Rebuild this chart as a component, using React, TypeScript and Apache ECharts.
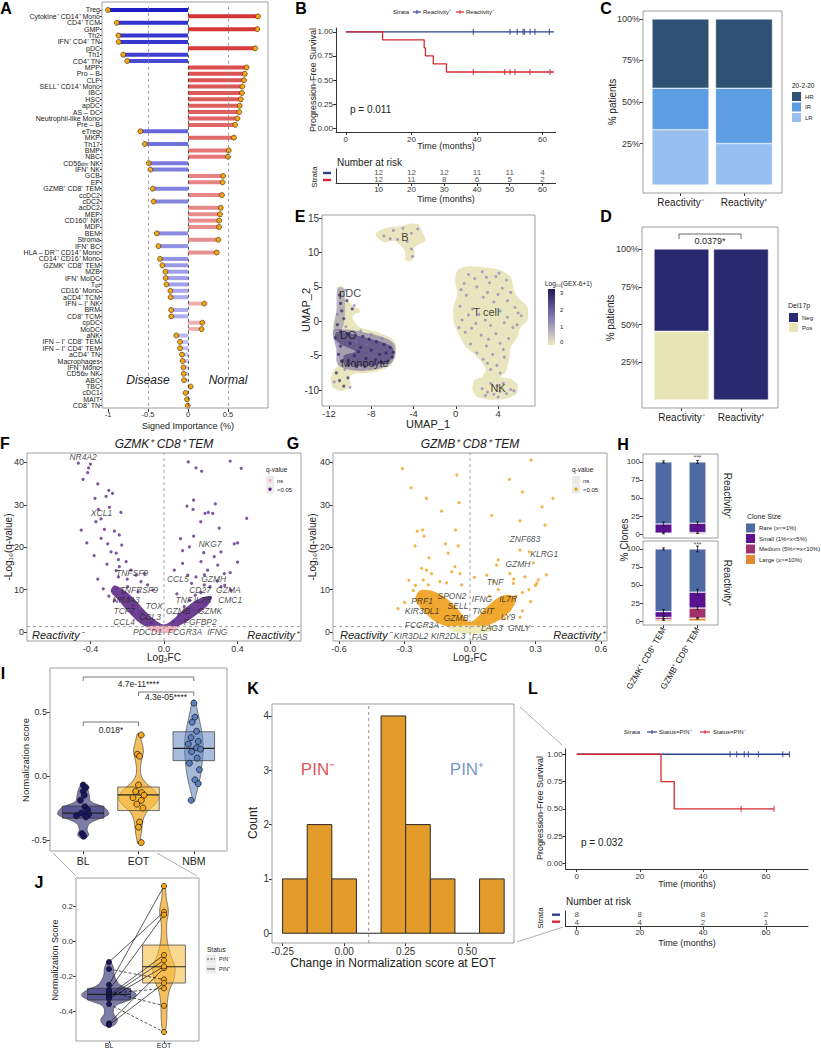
import React, { useEffect, useRef } from "react";
import * as echarts from "echarts";

const FONT = "'Liberation Sans', Arial, Helvetica, sans-serif";

// ===== Panel A : signed importance =====
const aCells = [
  "Treg", "Cytokine⁺ CD14⁺ Mono", "CD4⁺ TCM", "GMP", "Th2", "IFN⁺ CD4⁺ TN", "pDC", "Th1", "CD4⁺ TN", "MPP",
  "Pro – B", "CLP", "SELL⁺ CD14⁺ Mono", "IBC", "HSC", "apDC", "AS – DC", "Neutrophil-like Mono", "Pre – B", "eTreg",
  "MKP", "Th17", "BMP", "NBC", "CD56{s|dim} NK", "IFN⁺ NK", "GCB", "EP", "GZMB⁺ CD8⁺ TEM", "ccDC2",
  "cDC2", "acDC2", "MEP", "CD160⁺ NK", "MDP", "BEM", "Stroma", "IFN⁺ BC", "HLA – DR⁺⁺ CD14⁺ Mono", "CD14⁺ CD16⁺ Mono",
  "GZMK⁺ CD8⁺ TEM", "MZB", "IFN⁺ MoDC", "T{s|gd}", "CD16⁺ Mono", "aCD4⁺ TCM", "IFN – I⁺ NK", "BRM", "CD8⁺ TCM", "cpDC",
  "MoDC", "aNK", "IFN – I⁺ CD8⁺ TEM", "IFN – I⁺ CD4⁺ TEM", "aCD4⁺ TN", "Macrophages", "IFN⁺ Mono", "CD56{s|br} NK", "ABC", "TBC",
  "cDC1", "MAIT", "CD8⁺ TN",
];
const aImportance = [
  -1.0, 0.875, -0.89, 0.867, -0.87, -0.867, 0.84, -0.81, -0.76, 0.733,
  0.71, 0.70, 0.68, 0.675, 0.66, 0.646, 0.64, 0.617, 0.59, -0.596,
  0.575, -0.54, 0.51, 0.50, -0.49, -0.47, 0.44, 0.433, -0.44, 0.425,
  -0.43, 0.41, 0.40, 0.39, 0.388, -0.39, 0.38, -0.37, 0.36, -0.35,
  -0.32, -0.283, -0.28, -0.27, -0.22, -0.217, 0.204, -0.21, -0.21, 0.18,
  0.17, -0.146, -0.10, -0.10, -0.075, -0.067, -0.058, -0.054, -0.05, 0.033,
  -0.03, -0.012, -0.004,
];

// ===== Panel B : KM =====
const bBlueTimes = [0, 63.5];
const bBlueSurv = [1, 1];
const bRedTimes = [0, 11.2, 23.9, 24.3, 26.7, 30.7, 63.5];
const bRedSurv = [1, 0.917, 0.833, 0.75, 0.667, 0.583, 0.583];
const bBlueCensor = [38.9, 50.1, 52.3, 54.1, 54.5, 56.2, 57.7, 62.1];
const bRedCensor = [38.9, 48.5, 50.1, 51.6, 56.2, 62.3];
const bRiskTimes = [10, 20, 30, 40, 50, 60];
const bRiskBlue = [12, 12, 12, 11, 11, 4];
const bRiskRed = [12, 11, 8, 6, 5, 2];

// ===== Panel C =====
const cGroups = ["Reactivity⁻", "Reactivity⁺"];
const cLR = [33.3, 25];
const cIR = [25, 33.3];
const cHR = [41.7, 41.7];

// ===== Panel D =====
const dPos = [45.5, 0];
const dNeg = [54.5, 100];

// ===== Panel E : UMAP =====
const eClusterB = [[-7.58,12.74],[-7.1,13.3],[-6.16,13.7],[-5.2,13.8],[-4.26,14.2],[-3.57,14.1],[-3.06,12.7],[-2.84,11.7],[-3.47,11.2],[-3.94,10.6],[-3.88,9.45],[-4.26,8.77],[-4.73,8.83],[-4.8,10.1],[-5.2,11.0],[-5.84,11.7],[-6.79,11.5],[-7.48,12.2]];
const eClusterT = [[0.16,7.41],[1.1,8.0],[3.0,7.8],[4.26,7.41],[5.2,6.44],[5.52,4.5],[5.84,3.53],[6.79,2.08],[6.79,0.15],[6.16,-0.83],[5.84,-2.28],[5.2,-3.73],[5.05,-5.67],[4.73,-7.37],[4.26,-8.1],[5.2,-8.33],[5.84,-9.16],[5.78,-10.5],[4.9,-11.2],[3.31,-11.4],[2.05,-11.0],[1.58,-10.0],[1.73,-8.58],[2.52,-8.0],[2.84,-7.12],[2.52,-6.06],[1.73,-4.7],[0.95,-3.73],[0.41,-2.28],[-0.16,-0.34],[-0.22,2.08],[0.16,4.03],[-0.06,5.96]];
const eClusterM = [[-11.2,4.99],[-10.73,5.09],[-10.58,3.53],[-10.1,2.8],[-9.63,2.08],[-9.16,1.84],[-9.06,1.36],[-9.47,1.11],[-9.79,0.63],[-9.16,-0.83],[-8.05,-1.31],[-7.1,-1.79],[-6.16,-2.37],[-5.68,-3.24],[-5.68,-5.19],[-6.16,-6.4],[-7.1,-7.12],[-8.36,-7.51],[-9.63,-7.6],[-10.1,-8.18],[-9.94,-9.06],[-10.26,-9.78],[-10.9,-10.13],[-11.6,-9.64],[-11.84,-8.47],[-11.58,-7.22],[-11.14,-6.4],[-11.05,-4.7],[-11.27,-3.24],[-11.58,-2.03],[-11.68,-1.06],[-11.52,0.15],[-11.27,1.6],[-11.14,3.3]];
const eDenseOuter = [[-11.6,-1.3],[-10.4,-1.2],[-9.0,-1.5],[-7.6,-2.0],[-6.4,-2.6],[-5.8,-3.4],[-5.75,-5.0],[-6.2,-6.2],[-7.3,-6.9],[-8.8,-7.2],[-10.2,-7.0],[-11.2,-6.2],[-11.3,-4.2]];
const eDenseInner = [[-11.3,-1.6],[-10,-1.8],[-8.5,-2.4],[-7,-3.0],[-6.0,-3.8],[-5.9,-5.0],[-6.4,-5.9],[-7.6,-6.3],[-9.2,-6.5],[-10.4,-6.1],[-10.6,-5.0],[-9.5,-4.4],[-10.8,-3.4],[-11.4,-2.6]];
const ePdcStrip = [[-11.2,4.8],[-10.6,4.8],[-10.5,1.0],[-10.8,-1.2],[-11.5,-1.2],[-11.3,1.5]];
const eLightPts = [
  [1.2,6.8],[2.5,7.2],[3.8,6.5],[4.8,6.0],[0.8,5.5],[2.0,5.0],[3.2,5.6],[4.4,4.8],[5.2,4.2],[1.0,3.8],[2.6,3.5],[3.6,2.8],[4.9,3.0],[0.4,2.2],[1.6,1.8],[4.2,1.5],[5.6,2.0],[6.2,0.8],[0.6,0.2],[1.9,-0.3],[3.3,-0.6],[4.6,-0.2],[5.4,-0.9],[0.9,-1.6],[2.4,-2.0],[3.8,-1.8],[5.0,-2.5],[1.4,-3.3],[2.9,-3.6],[4.2,-3.2],[3.5,-4.8],[4.6,-5.2],[2.6,-5.5],[3.9,-6.4],[3.3,-7.0],[2.2,1.0],[3.0,4.2],[1.5,-1.0],[4.0,3.9],[5.8,-0.5],
  [1.8,6.2],[4.1,7.0],[0.5,4.6],[2.9,6.4],[5.9,1.2],[1.2,0.9],[2.8,0.2],[4.9,0.6],[0.3,-0.9],[3.1,-2.6],[4.5,-4.1],[2.0,-4.6],[3.0,-6.1],[4.2,-7.5],
  [2.5,-9.8],[3.0,-10.3],[3.6,-10.6],[4.2,-10.2],[4.8,-10.5],[5.2,-9.9],[3.9,-9.4],[2.8,-10.8],[4.5,-9.0],[3.3,-9.0],[5.5,-10.1],[4.0,-11.0],
  [-6.8,12.4],[-5.9,13.2],[-5.0,13.5],[-4.2,12.8],[-3.6,13.4],[-4.6,11.6],[-5.5,11.9],[-4.2,10.5],[-4.1,9.4],[-6.2,12.0],
  [-10.5,-7.0],[-10.0,-9.6],[-11.5,-8.8],[-9.0,-1.4],[-8.0,-1.9],[-10.5,4.5],[-9.6,2.3],[-11.2,1.0],[-10.4,-0.8],[-9.4,-3.0],[-8.4,-3.4],[-7.0,-2.5],
];
const eDarkPts = [[-11.0,3.8],[-10.9,2.6],[-10.8,1.5],[-10.6,0.4],[-11.2,-0.5],[-10.9,-1.5],[-10.2,-1.8],[-9.5,-2.0],[-8.8,-2.2],[-8.2,-2.6],[-7.5,-3.0],[-6.8,-3.4],[-6.2,-3.8],[-5.9,-4.5],[-6.0,-5.2],[-6.4,-5.8],[-7.0,-6.0],[-7.8,-6.3],[-8.6,-6.6],[-9.4,-6.6],[-10.2,-6.4],[-10.8,-5.8],[-11.1,-4.8],[-10.9,-3.6],[-10.0,-3.2],[-9.0,-3.8],[-8.0,-4.2],[-7.2,-4.8],[-8.5,-5.4],[-9.6,-5.0],[-11.3,-7.5],[-11.0,-8.6],[-10.6,-9.4],[-10.2,-8.2],[-9.8,1.8],[-10.3,3.0],[-11.4,-2.4],[-7.6,-5.6],[-6.6,-4.6],[-9.2,-4.4]];
const eLabels = [[-4.8,12.2,"B"],[-10.0,4.1,"pDC"],[-10.2,-2.0,"DC"],[-8.6,-6.1,"Monocyte"],[2.9,1.3,"T cell"],[4.0,-9.7,"NK"]];

// ===== Panel F : volcano GZMK =====
const fSig = [
  [-0.466,39.8],[-0.40,39.6],[-0.41,38.7],[-0.415,37.6],[-0.44,36.0],[-0.36,34.9],[-0.30,33.4],[-0.28,32.7],[-0.315,32.0],[-0.375,31.5],[-0.297,29.4],[-0.357,28.9],[-0.234,28.2],[-0.342,26.7],
  [0.132,40.1],[0.36,40.3],[0.42,38.6],[0.174,38.7],[0.205,37.9],[0.125,29.7],[0.161,31.1],[0.279,30.2],[0.158,28.9],[0.223,28.0],[0.241,28.2],[0.265,28.0],
  [-0.37,26.0],[-0.324,24.2],[-0.27,23.8],[-0.342,22.1],[-0.306,20.8],[-0.243,22.9],[-0.23,20.5],[-0.288,18.9],[-0.26,18.6],[-0.248,17.1],[-0.206,16.6],[-0.243,15.4],[-0.18,14.6],[-0.152,13.4],[-0.107,13.8],[-0.248,13.0],[-0.125,11.9],[-0.089,11.1],[-0.061,9.9],[-0.197,10.7],
  [0.161,22.6],[0.138,20.1],[0.101,19.2],[0.216,18.7],[0.273,17.8],[0.201,16.6],[0.31,18.9],[0.292,15.8],[0.382,20.8],[0.101,16.2],[0.056,14.6],[0.129,13.4],[0.174,13.0],[0.237,14.6],[0.328,13.8],[0.31,10.7],[0.219,11.1],[0.364,9.9],
  [-0.36,12.5],[-0.33,10.2],[-0.3,8.5],[-0.27,7.4],[-0.22,9.2],[-0.19,8],[-0.17,6.3],[-0.12,4.5],[-0.1,3.2],[-0.07,2.2],[-0.26,14.5],[-0.2,12.5],[-0.14,9.5],[-0.31,16],[-0.38,18],[-0.42,21],[-0.45,24],
  [0.05,2.5],[0.08,4.2],[0.11,6],[0.14,7.5],[0.17,8.7],[0.2,9.3],[0.25,10.7],[0.29,12],[0.33,11],[0.36,14],[0.4,16.5],[0.22,13.5],[0.15,11.5],[0.07,9],[0.4,21],[0.3,24.5],[0.2,26],[0.09,22],[0.45,26.8],
];
const fNs = [[-0.05,0.6],[0.03,0.9],[0.06,0.4],[-0.02,1.0],[0.01,0.2]];
const fDense = [[-0.27,11],[-0.22,10],[-0.17,8.2],[-0.12,5.8],[-0.07,3.6],[-0.03,2.3],[0.0,1.8],[0.04,2.6],[0.09,4.6],[0.15,6.8],[0.21,8.2],[0.26,8.4],[0.24,6.4],[0.18,4.2],[0.12,2.4],[0.07,1.3],[0.02,0.6],[-0.04,0.6],[-0.1,1.3],[-0.15,2.8],[-0.2,5],[-0.25,7.6],[-0.29,9.6]];
const fNsArea = [[-0.1,1.3],[0.08,1.3],[0.05,0.2],[0,-0.3],[-0.06,0.2]];
const fLabels = [[-0.44,41.3,"NR4A2"],[-0.34,28,"XCL1"],[0.25,20.7,"NKG7"],[-0.174,13.9,"TNFSF9"],[0.075,12.5,"CCL5"],[0.27,12.5,"GZMH"],[-0.137,9.9,"TNFRSF9"],[0.196,9.9,"CD27"],[0.35,9.9,"GZMA"],[-0.206,7.5,"NR4A3"],[-0.054,6.1,"TOX"],[0.108,7.5,"TNF"],[0.21,7.5,"IL7R"],[0.36,7.5,"CMC1"],[-0.217,5,"TCF7"],[-0.076,3.5,"CCL3"],[0.077,5,"GZMB"],[0.25,5,"GZMK"],[-0.217,2.4,"CCL4"],[0.197,2.4,"FGFBP2"],[-0.09,0,"PDCD1"],[0.114,0,"FCGR3A"],[0.29,0,"IFNG"]];

// ===== Panel G : volcano GZMB =====
const gSig = [
  [-0.242,23.8],[-0.217,24.1],[-0.211,22.6],[-0.252,20.3],[-0.066,24.1],[-0.054,20.3],[-0.112,20.8],[-0.1,18.6],[-0.188,17.5],[-0.222,15.0],[-0.199,14.6],[-0.176,13.8],[-0.214,12.3],[-0.191,11.1],[-0.138,11.9],[-0.107,11.6],[-0.069,15.4],[-0.046,13.8],[-0.084,14.2],[-0.038,11.1],[0.02,12.9],
  [0.229,26.2],[0.344,25.2],[0.229,19.3],[0.272,18.9],[0.29,16.3],[0.13,17.0],[0.122,15.8],[0.077,13.4],[0.107,11.9],[0.183,13.8],[0.199,11.5],[0.252,13.0],[0.313,12.3],[0.306,11.5],[0.278,7.2],[0.229,3.5],
  [-0.31,38.5],[-0.27,34],[-0.2,31.5],[-0.06,37],[-0.05,30.5],[-0.13,28.5],[0.28,40.5],[0.18,36],[0.24,33],[0.33,29.5],[0.1,27.5],[0.38,31.5],
  [-0.26,9.8],[-0.23,8.6],[-0.2,7.4],[-0.17,6],[-0.14,5],[-0.11,3.8],[-0.08,2.7],[-0.05,2],[-0.28,12.2],[-0.25,11],[0.04,1.8],[0.06,3],[0.09,4.3],[0.12,5.5],[0.15,6.6],[0.18,7.5],[0.21,8.4],[0.24,9.3],[0.27,10],[0.3,11],[0.13,10],[0.2,12.5],[0.09,8.5],[0.16,3.2],[0.24,5],[0.35,13.5],[-0.3,7],[-0.33,5.5],
];
const gNs = [[-0.04,0.5],[0.05,0.8],[0.08,0.3],[-0.01,1.0],[0.02,0.1]];
const gDense = [[-0.23,9.8],[-0.18,9.8],[-0.12,8.4],[-0.07,6.2],[-0.03,3.8],[0,2.4],[0.03,3.3],[0.07,5.6],[0.12,7.8],[0.17,8.8],[0.21,8],[0.19,5.2],[0.14,3],[0.08,1.5],[0.03,1],[-0.04,1],[-0.1,1.3],[-0.16,2.5],[-0.21,4.8],[-0.25,7.6]];
const gNsArea = [[-0.1,1.3],[0.12,1.3],[0.08,0],[0.0,-0.4],[-0.07,0]];
const gLabels = [[0.252,21.9,"ZNF683"],[0.34,18.4,"KLRG1"],[0.22,16,"GZMH"],[0.115,11.8,"TNF"],[0.175,7.8,"IL7R"],[0.055,7.8,"IFNG"],[-0.083,8.5,"SPON2"],[-0.22,7.3,"PRF1"],[-0.055,6.1,"SELL"],[-0.22,5,"KIR3DL1"],[0.06,5,"TIGIT"],[-0.064,3.3,"GZMB"],[0.175,3.5,"LY9"],[-0.22,1.6,"FCGR3A"],[0.1,0.9,"LAG3"],[0.225,0.9,"GNLY"],[-0.27,-1,"KIR3DL2"],[-0.1,-1,"KIR2DL3"],[0.045,-1.2,"FAS"]];

// ===== Panel H : clone sizes =====
const hCats = ["GZMK⁺ CD8⁺ TEM", "GZMB⁺ CD8⁺ TEM"];
const hTopLarge = [0.3, 0.5];
const hTopMedium = [1, 1.5];
const hTopSmall = [12.7, 13];
const hTopRare = [86, 85];
const hBotLarge = [2, 4];
const hBotMedium = [3, 14];
const hBotSmall = [8, 22];
const hBotRare = [87, 60];
const hTopErr = [[0,100,1.5],[0,14,2.5],[0,1.3,1],[1,100,2],[1,15,2],[1,2,1.2]];
const hBotErr = [[0,100,1.5],[0,13,3],[0,5,1.5],[0,2,1],[1,100,4],[1,40,4],[1,18,2],[1,4,1]];

// ===== Panel I : normalization score =====
const iCats = ["BL", "EOT", "NBM"];
const iPtsBL = [[-0.07,0],[-0.09,0.05],[-0.12,0],[-0.15,0.02],[-0.19,-0.05],[-0.24,0.03],[-0.265,0.08],[-0.29,-0.03],[-0.30,0.1],[-0.31,-0.12],[-0.32,0.05],[-0.45,-0.02],[-0.47,0.01]];
const iPtsEOT = [[0.32,0.05],[0.17,-0.02],[0.155,0.02],[-0.07,0],[-0.12,-0.05],[-0.13,0.06],[-0.15,0.1],[-0.17,-0.1],[-0.19,0.05],[-0.22,-0.03],[-0.25,0.08],[-0.36,0.02],[-0.40,0],[-0.52,0.05]];
const iPtsNBM = [[0.57,0],[0.46,0.02],[0.42,-0.03],[0.35,0.05],[0.30,-0.05],[0.27,0.08],[0.25,-0.1],[0.22,0.05],[0.21,0.12],[0.19,-0.04],[0.14,0.06],[0.10,-0.08],[0.05,0.1],[-0.03,0.02],[-0.06,0.08],[-0.19,-0.05]];
const iBox = [[0,-0.33,-0.29,-0.235],[1,-0.27,-0.148,-0.086],[2,0.12,0.216,0.346]];
const iViolinBL = [[-0.06,0.02],[-0.1,0.08],[-0.15,0.11],[-0.2,0.14],[-0.24,0.36],[-0.27,0.44],[-0.3,0.46],[-0.33,0.32],[-0.37,0.12],[-0.42,0.07],[-0.46,0.1],[-0.49,0.02]];
const iViolinEOT = [[0.33,0.02],[0.28,0.05],[0.2,0.09],[0.15,0.07],[0.08,0.04],[0.0,0.05],[-0.06,0.15],[-0.12,0.3],[-0.17,0.36],[-0.22,0.3],[-0.28,0.15],[-0.35,0.08],[-0.42,0.06],[-0.5,0.03],[-0.53,0.01]];
const iViolinNBM = [[0.59,0.02],[0.5,0.07],[0.4,0.12],[0.3,0.16],[0.2,0.17],[0.1,0.15],[0.0,0.12],[-0.08,0.08],[-0.15,0.04],[-0.2,0.01]];

// ===== Panel J : paired =====
const jCats = ["BL", "EOT"];
const jBL = [-0.16, -0.29, -0.36, -0.30, -0.25, -0.12, -0.28, -0.47, -0.31, -0.32, -0.33, -0.48];
const jEOT = [-0.22, -0.37, -0.52, -0.27, 0.314, 0.167, 0.15, -0.155, -0.08, -0.11, -0.145, -0.24];
const jPin = [0, 0, 0, 0, 1, 1, 1, 1, 1, 1, 1, 1];
const jBox = [[0,-0.337,-0.305,-0.27],[1,-0.24,-0.147,-0.023]];
const jViolinBL = [[-0.115,0.02],[-0.15,0.08],[-0.2,0.1],[-0.25,0.2],[-0.28,0.4],[-0.31,0.5],[-0.34,0.35],[-0.37,0.12],[-0.41,0.08],[-0.45,0.15],[-0.48,0.1],[-0.49,0.01]];
const jViolinEOT = [[0.32,0.02],[0.25,0.04],[0.17,0.08],[0.1,0.05],[0.0,0.06],[-0.08,0.12],[-0.15,0.2],[-0.22,0.18],[-0.28,0.1],[-0.35,0.06],[-0.45,0.05],[-0.52,0.02]];

// ===== Panel K : histogram =====
const kBinStart = [-0.25, -0.15, -0.05, 0.05, 0.15, 0.25, 0.35, 0.45, 0.55];
const kCounts = [1, 2, 1, 0, 4, 2, 1, 0, 1];
const kBinWidth = 0.1;

// ===== Panel L : KM =====
const lBlueTimes = [0, 67.4];
const lBlueSurv = [1, 1];
const lRedTimes = [0, 26.7, 30.9, 62.5];
const lRedSurv = [1, 0.75, 0.5, 0.5];
const lBlueCensor = [48.6, 50.7, 53.1, 54.4, 57.6, 65.3, 67.4];
const lRedCensor = [52.1, 62.5];
const lRiskTimes = [0, 20, 40, 60];
const lRiskBlue = [8, 8, 8, 2];
const lRiskRed = [4, 4, 2, 1];

// ---------- helpers ----------
const AXC = "#333";
function vAxis(gi: number, min: number, max: number, ticks: number[], fmt: (v: number) => string = (v) => String(v), o: any = {}) {
  return {
    type: "value", gridIndex: gi, min, max, offset: o.offset || 0,
    axisLine: { show: !!o.line, onZero: false, lineStyle: { color: AXC, width: 1 } },
    axisTick: { show: true, length: 3, customValues: ticks, lineStyle: { color: AXC } },
    axisLabel: { show: !o.noLabel, customValues: ticks, formatter: fmt, fontSize: o.fs || 8, color: AXC, margin: o.margin ?? 3, fontFamily: FONT },
    splitLine: { show: false },
  };
}
function cAxis(gi: number, data: string[], o: any = {}) {
  return {
    type: "category", gridIndex: gi, data, inverse: !!o.inverse,
    axisLine: { show: !!o.line, onZero: false, lineStyle: { color: AXC } },
    axisTick: { show: o.tick !== false, length: o.tickLen || 3, alignWithLabel: true, interval: 0, lineStyle: { color: AXC } },
    axisLabel: { show: !o.noLabel, interval: 0, fontSize: o.fs || 9, color: "#222", margin: o.margin ?? 3, rotate: o.rotate || 0, fontFamily: FONT, rich: o.rich },
    splitLine: { show: false },
  };
}
const T = (x: number, y: number, text: string, o: any = {}) => ({
  type: "text", x, y, rotation: o.rot || 0, silent: true, z: 50,
  style: { text, fontSize: o.fs || 9, fill: o.c || "#222", fontFamily: FONT, fontStyle: o.it ? "italic" : "normal", fontWeight: o.b ? "bold" : "normal", align: o.al || "center", verticalAlign: o.va || "middle" },
});
const R = (x: number, y: number, w: number, h: number, fill: any, stroke: string = "none", lw = 1) => ({
  type: "rect", shape: { x, y, width: w, height: h }, silent: true, z: 50, style: { fill, stroke, lineWidth: lw },
});
const Ln = (x1: number, y1: number, x2: number, y2: number, stroke = "#333", lw = 1, dash: any = null) => ({
  type: "line", shape: { x1, y1, x2, y2 }, silent: true, z: 50, style: { stroke, lineWidth: lw, lineDash: dash },
});

const polySeries = (gi: number, pts: number[][], fill: string, smooth = 0.2, z = 1, stroke = "none") => ({
  type: "custom", xAxisIndex: gi, yAxisIndex: gi, z, silent: true, data: [pts[0]],
  renderItem: (_p: any, api: any) => ({
    type: "polygon", shape: { points: pts.map((p) => api.coord(p)), smooth }, style: { fill, stroke, lineWidth: 0.5 },
  }),
});
const refLine = (gi: number, p1: number[], p2: number[], color: string, dash: any, width = 0.8, z = 5) => ({
  type: "custom", xAxisIndex: gi, yAxisIndex: gi, z, silent: true, data: [p1],
  renderItem: (_p: any, api: any) => {
    const a = api.coord(p1), b = api.coord(p2);
    return { type: "line", shape: { x1: a[0], y1: a[1], x2: b[0], y2: b[1] }, style: { stroke: color, lineWidth: width, lineDash: dash } };
  },
});
const violinSeries = (gi: number, cat: number, prof: number[][], fill: string, z = 2) => ({
  type: "custom", xAxisIndex: gi, yAxisIndex: gi, z, silent: true, data: [[cat, prof[0][0]]],
  renderItem: (_p: any, api: any) => {
    const band = api.size([1, 0])[0];
    const right = prof.map(([v, w]) => { const c = api.coord([cat, v]); return [c[0] + w * band, c[1]]; });
    const left = prof.slice().reverse().map(([v, w]) => { const c = api.coord([cat, v]); return [c[0] - w * band, c[1]]; });
    return { type: "polygon", shape: { points: [...right, ...left], smooth: 0.35 }, style: { fill, stroke: "#3a3a3a", lineWidth: 0.6 } };
  },
});
const boxSeries = (gi: number, boxes: number[][], fills: string[], widthFrac: number, z = 3) => ({
  type: "custom", xAxisIndex: gi, yAxisIndex: gi, z, silent: true, data: boxes,
  renderItem: (p: any, api: any) => {
    const band = api.size([1, 0])[0];
    const cat = api.value(0);
    const a = api.coord([cat, api.value(3)]);
    const b = api.coord([cat, api.value(1)]);
    const m = api.coord([cat, api.value(2)]);
    const w = band * widthFrac;
    return {
      type: "group", children: [
        { type: "rect", shape: { x: a[0] - w / 2, y: a[1], width: w, height: b[1] - a[1] }, style: { fill: fills[p.dataIndex], stroke: "#3a3a3a", lineWidth: 0.7 } },
        { type: "line", shape: { x1: a[0] - w / 2, y1: m[1], x2: a[0] + w / 2, y2: m[1] }, style: { stroke: "#222", lineWidth: 1.2 } },
      ],
    };
  },
});
const pointsSeries = (gi: number, cat: number, pts: number[][], fill: string, r = 3, z = 6) => ({
  type: "custom", xAxisIndex: gi, yAxisIndex: gi, z, silent: true, data: pts.map(([v, dx]) => [cat, v, dx]),
  renderItem: (_p: any, api: any) => {
    const band = api.size([1, 0])[0];
    const c = api.coord([api.value(0), api.value(1)]);
    return { type: "circle", shape: { cx: c[0] + api.value(2) * band, cy: c[1], r }, style: { fill, stroke: "#111", lineWidth: 0.7 } };
  },
});
const labelSeries = (gi: number, items: any[], o: any = {}) => ({
  type: "scatter", xAxisIndex: gi, yAxisIndex: gi, symbolSize: 0.01, z: 8, silent: true,
  itemStyle: { color: "rgba(0,0,0,0)" },
  data: items.map((d) => [d[0], d[1], d[2]]),
  label: { show: true, position: "inside", formatter: (p: any) => p.value[2], fontSize: o.fs || 9, fontStyle: o.it ? "italic" : "normal", color: o.c || "#222", fontFamily: FONT },
});
const errSeries = (gi: number, items: number[][]) => ({
  type: "custom", xAxisIndex: gi, yAxisIndex: gi, z: 6, silent: true, data: items,
  renderItem: (_p: any, api: any) => {
    const cat = api.value(0), v = api.value(1), e = api.value(2);
    const a = api.coord([cat, v + e]), b = api.coord([cat, v - e]);
    return {
      type: "group", children: [
        { type: "line", shape: { x1: a[0], y1: a[1], x2: b[0], y2: b[1] }, style: { stroke: "#111", lineWidth: 0.8 } },
        { type: "line", shape: { x1: a[0] - 1.5, y1: a[1], x2: a[0] + 1.5, y2: a[1] }, style: { stroke: "#111", lineWidth: 0.8 } },
        { type: "line", shape: { x1: b[0] - 1.5, y1: b[1], x2: b[0] + 1.5, y2: b[1] }, style: { stroke: "#111", lineWidth: 0.8 } },
      ],
    };
  },
});

function buildOption() {
  const kmBlue = "#2C3E8F", kmRed = "#D7282E";
  const grids = [
    { left: 102, top: 6.8, width: 166, height: 402.1 },
    { left: 336, top: 28, width: 219.6, height: 104 },
    { left: 336, top: 169, width: 219.6, height: 14 },
    { left: 648.75, top: 11, width: 127, height: 182 },
    { left: 651.75, top: 227, width: 119, height: 181 },
    { left: 322, top: 215, width: 213, height: 191 },
    { left: 27, top: 453, width: 274, height: 188 },
    { left: 333, top: 453, width: 274, height: 188 },
    { left: 646.5, top: 454, width: 68, height: 84 },
    { left: 646.5, top: 541, width: 68, height: 84 },
    { left: 55.5, top: 668, width: 166, height: 183 },
    { left: 81.5, top: 878, width: 110, height: 163 },
    { left: 272, top: 704, width: 242, height: 239 },
    { left: 565.7, top: 748.8, width: 242.3, height: 120.2 },
    { left: 565.7, top: 911, width: 242.3, height: 15.7 },
  ].map((g) => ({ ...g, containLabel: false, outerBoundsMode: "none" }));

  const f1 = (v: number) => v.toFixed(1);
  const f2 = (v: number) => v.toFixed(2);
  const pct = (v: number) => v + "%";

  const xAxis: any[] = [
    vAxis(0, -1.075, 1.0, [-1, -0.5, 0, 0.5], (v) => String(v), { margin: 1.5, fs: 7.5 }),
    vAxis(1, -3, 64, [0, 20, 40, 60], (v) => String(v), { line: true, fs: 8 }),
    vAxis(2, -3, 64, [10, 20, 30, 40, 50, 60], (v) => String(v), { line: true, fs: 8, margin: 2 }),
    cAxis(3, cGroups, { fs: 10, margin: 4 }),
    cAxis(4, cGroups, { fs: 10, margin: 4 }),
    vAxis(5, -12.66, 7.5, [-12, -8, -4, 0, 4], (v) => String(v), { fs: 9.5, margin: 2 }),
    vAxis(6, -0.745, 0.745, [-0.4, 0, 0.4], f1, { fs: 9 }),
    vAxis(7, -0.628, 0.628, [-0.6, -0.3, 0, 0.3, 0.6], f1, { fs: 9 }),
    cAxis(8, hCats, { noLabel: true, tick: false }),
    cAxis(9, hCats, { fs: 8.5, rotate: 60, margin: 3 }),
    cAxis(10, iCats, { fs: 10.5, margin: 4 }),
    cAxis(11, jCats, { fs: 7, margin: 1, tickLen: 2 }),
    vAxis(12, -0.293, 0.69, [-0.25, 0, 0.25, 0.5], f2, { fs: 10 }),
    vAxis(13, -3.5, 73.3, [0, 20, 40, 60], (v) => String(v), { line: true, fs: 8 }),
    vAxis(14, -3.5, 73.3, [0, 20, 40, 60], (v) => String(v), { line: true, fs: 8, margin: 2 }),
  ];
  const aY = cAxis(0, aCells, { inverse: true, fs: 7, margin: 2, rich: { s: { fontSize: 4.5, verticalAlign: "bottom", color: "#222", fontFamily: FONT } } });
  aY.axisTick.length = 2;
  const bRiskY = cAxis(2, ["blue", "red"], { inverse: true, noLabel: true, tick: false, line: true });
  const lRiskY = cAxis(14, ["blue", "red"], { inverse: true, noLabel: true, tick: false, line: true });
  const yAxis: any[] = [
    aY,
    vAxis(1, -0.04, 1.04, [0, 0.25, 0.5, 0.75, 1], f2, { line: true, fs: 8 }),
    bRiskY,
    vAxis(3, -4.8, 104.8, [25, 50, 75, 100], pct, { offset: 5.75, fs: 9 }),
    vAxis(4, -5.3, 114.6, [25, 50, 75, 100], pct, { offset: 9.75, fs: 9 }),
    vAxis(5, -12.3, 15.44, [-10, -5, 0, 5, 10, 15], (v) => String(v), { fs: 10 }),
    vAxis(6, -2.1, 42.2, [0, 10, 20, 30, 40], (v) => String(v), { fs: 9 }),
    vAxis(7, -2.1, 42.2, [0, 10, 20, 30, 40], (v) => String(v), { fs: 9 }),
    vAxis(8, -5.5, 111, [0, 25, 50, 75, 100], (v) => String(v), { offset: 3.5, fs: 8 }),
    vAxis(9, -5.5, 111, [0, 25, 50, 75, 100], (v) => String(v), { offset: 3.5, fs: 8 }),
    vAxis(10, -0.586, 0.844, [-0.5, 0, 0.5], f1, { offset: 5.5, fs: 9 }),
    vAxis(11, -0.571, 0.36, [-0.4, -0.2, 0, 0.2], f1, { offset: 5.5, fs: 8 }),
    vAxis(12, -0.18, 4.22, [0, 1, 2, 3, 4], (v) => String(v), { fs: 10 }),
    vAxis(13, -0.051, 1.05, [0, 0.25, 0.5, 0.75, 1], f2, { line: true, fs: 8 }),
    lRiskY,
  ];

  const series: any[] = [];

  // ---- A ----
  series.push({
    type: "bar", xAxisIndex: 0, yAxisIndex: 0, barWidth: 4, z: 2, silent: true,
    data: aImportance.map((v) => ({ value: v, itemStyle: { color: v < 0 ? "#1E1EC8" : "#D21E1E", opacity: 0.2 + 0.8 * Math.min(1, Math.abs(v)) } })),
    markLine: {
      silent: true, symbol: "none", label: { show: false },
      data: [
        { xAxis: -0.5, lineStyle: { color: "#888", type: [3, 3], width: 0.8 } },
        { xAxis: 0, lineStyle: { color: "#333", type: [3, 3], width: 0.8 } },
        { xAxis: 0.5, lineStyle: { color: "#888", type: [3, 3], width: 0.8 } },
      ],
    },
  });
  series.push({
    type: "scatter", xAxisIndex: 0, yAxisIndex: 0, z: 4, symbolSize: 5, silent: true,
    data: aImportance.map((v, i) => [v, i]),
    itemStyle: { color: "#F2A516", borderColor: "#3a2a00", borderWidth: 0.6, opacity: 1 },
  });

  // ---- B ----
  const kmLine = (gi: number, times: number[], surv: number[], color: string) => ({
    type: "line", xAxisIndex: gi, yAxisIndex: gi, step: "end", symbol: "none", z: 3, silent: true,
    data: times.map((t, i) => [t, surv[i]]), lineStyle: { color, width: 1.3 },
  });
  const censor = (gi: number, times: number[], y: number, color: string) => ({
    type: "scatter", xAxisIndex: gi, yAxisIndex: gi, symbol: "rect", symbolSize: [1.2, 6], z: 4, silent: true,
    data: times.map((t) => [t, y]), itemStyle: { color },
  });
  const riskRow = (gi: number, times: number[], vals: number[], row: number) => ({
    type: "scatter", xAxisIndex: gi, yAxisIndex: gi, symbolSize: 0.01, z: 5, silent: true,
    itemStyle: { color: "rgba(0,0,0,0)" },
    data: times.map((t, i) => [t, row, vals[i]]),
    label: { show: true, position: "inside", formatter: (p: any) => String(p.value[2]), fontSize: 8, color: "#222", fontFamily: FONT },
  });
  series.push(kmLine(1, bBlueTimes, bBlueSurv, kmBlue), kmLine(1, bRedTimes, bRedSurv, kmRed));
  series.push(censor(1, bBlueCensor, 1, kmBlue), censor(1, bRedCensor, 0.583, kmRed));
  series.push(riskRow(2, bRiskTimes, bRiskBlue, 0), riskRow(2, bRiskTimes, bRiskRed, 1));

  // ---- C ----
  const cCol = { HR: "#2F5274", IR: "#5D9DE2", LR: "#97C0F1" };
  const stackBar = (gi: number, stack: string, data: number[], color: string, w: number) => ({
    type: "bar", xAxisIndex: gi, yAxisIndex: gi, stack, barWidth: w, z: 2, silent: true, data,
    itemStyle: { color, borderColor: "rgba(255,255,255,0.7)", borderWidth: 0.6 },
  });
  series.push(stackBar(3, "c", cLR, cCol.LR, 57), stackBar(3, "c", cIR, cCol.IR, 57), stackBar(3, "c", cHR, cCol.HR, 57));

  // ---- D ----
  const dCol = { Neg: "#29296F", Pos: "#E7E5B6" };
  series.push(stackBar(4, "d", dPos, dCol.Pos, 55), stackBar(4, "d", dNeg, dCol.Neg, 55));

  // ---- E ----
  series.push(polySeries(5, eClusterB, "#E9E6BF", 0.2, 1));
  series.push(polySeries(5, eClusterT, "#E9E6BF", 0.2, 1));
  series.push(polySeries(5, eClusterM, "#E9E6BF", 0.2, 1));
  series.push(polySeries(5, ePdcStrip, "rgba(95,80,160,0.35)", 0.3, 2));
  series.push(polySeries(5, eDenseOuter, "rgba(85,70,150,0.45)", 0.3, 2));
  series.push(polySeries(5, eDenseInner, "rgba(40,28,105,0.5)", 0.3, 2));
  series.push({
    type: "scatter", xAxisIndex: 5, yAxisIndex: 5, symbolSize: 3, z: 3, silent: true,
    data: eLightPts, itemStyle: { color: "rgba(125,110,180,0.75)" },
  });
  series.push({
    type: "scatter", xAxisIndex: 5, yAxisIndex: 5, symbolSize: 3.2, z: 3, silent: true,
    data: eDarkPts, itemStyle: { color: "rgba(40,26,100,0.85)" },
  });
  series.push(labelSeries(5, eLabels, { fs: 11, c: "#111" }));

  // ---- F ----
  series.push(polySeries(6, fDense, "rgba(94,43,135,0.9)", 0.3, 2));
  series.push(polySeries(6, fNsArea, "#F5B6C3", 0.3, 2));
  series.push(refLine(6, [-0.745, 1.3], [0.745, 1.3], "#888", [3, 3]));
  series.push(refLine(6, [0, -2.1], [0, 42.2], "#888", [3, 3]));
  series.push({ type: "scatter", xAxisIndex: 6, yAxisIndex: 6, symbolSize: 3.2, z: 4, silent: true, data: fSig, itemStyle: { color: "#5E2B87" } });
  series.push({ type: "scatter", xAxisIndex: 6, yAxisIndex: 6, symbolSize: 3.2, z: 4, silent: true, data: fNs, itemStyle: { color: "#F5B6C3" } });
  series.push(labelSeries(6, fLabels, { fs: 8.5, it: true }));

  // ---- G ----
  series.push(polySeries(7, gDense, "rgba(239,161,31,0.92)", 0.3, 2));
  series.push(polySeries(7, gNsArea, "#EDEBB9", 0.3, 2));
  series.push(refLine(7, [-0.628, 1.3], [0.628, 1.3], "#888", [3, 3]));
  series.push(refLine(7, [0, -2.1], [0, 42.2], "#888", [3, 3]));
  series.push({ type: "scatter", xAxisIndex: 7, yAxisIndex: 7, symbolSize: 3.2, z: 4, silent: true, data: gSig, itemStyle: { color: "#EFA11F" } });
  series.push({ type: "scatter", xAxisIndex: 7, yAxisIndex: 7, symbolSize: 3.2, z: 4, silent: true, data: gNs, itemStyle: { color: "#EDEBB9" } });
  series.push(labelSeries(7, gLabels, { fs: 8.5, it: true }));

  // ---- H ----
  const hCol = { Rare: "#4E6AA3", Small: "#5A1290", Medium: "#A2326C", Large: "#E08A33" };
  series.push(stackBar(8, "ht", hTopLarge, hCol.Large, 17), stackBar(8, "ht", hTopMedium, hCol.Medium, 17), stackBar(8, "ht", hTopSmall, hCol.Small, 17), stackBar(8, "ht", hTopRare, hCol.Rare, 17));
  series.push(stackBar(9, "hb", hBotLarge, hCol.Large, 17), stackBar(9, "hb", hBotMedium, hCol.Medium, 17), stackBar(9, "hb", hBotSmall, hCol.Small, 17), stackBar(9, "hb", hBotRare, hCol.Rare, 17));
  series.push(errSeries(8, hTopErr), errSeries(9, hBotErr));
  series.push(labelSeries(8, [[1, 106, "***"]], { fs: 7 }), labelSeries(9, [[1, 106, "***"]], { fs: 7 }));

  // ---- I ----
  const blFill = "rgba(40,36,110,0.6)", eotFill = "rgba(240,170,40,0.75)", nbmFill = "rgba(90,125,185,0.55)";
  series.push(violinSeries(10, 0, iViolinBL, blFill), violinSeries(10, 1, iViolinEOT, eotFill), violinSeries(10, 2, iViolinNBM, nbmFill));
  series.push(boxSeries(10, iBox, ["rgba(50,46,125,0.5)", "rgba(245,190,70,0.6)", "rgba(100,135,195,0.55)"], 0.75));
  series.push(pointsSeries(10, 0, iPtsBL, "#1B1464"), pointsSeries(10, 1, iPtsEOT, "#F4A81D"), pointsSeries(10, 2, iPtsNBM, "#5B80BF"));

  // ---- J ----
  series.push(violinSeries(11, 0, jViolinBL, blFill), violinSeries(11, 1, jViolinEOT, eotFill));
  series.push(boxSeries(11, jBox, ["rgba(50,46,125,0.5)", "rgba(245,190,70,0.6)"], 0.78));
  series.push({
    type: "custom", xAxisIndex: 11, yAxisIndex: 11, z: 5, silent: true,
    data: jBL.map((b, i) => [0, b, jEOT[i], jPin[i]]),
    renderItem: (_p: any, api: any) => {
      const a = api.coord([0, api.value(1)]), b = api.coord([1, api.value(2)]);
      return { type: "line", shape: { x1: a[0], y1: a[1], x2: b[0], y2: b[1] }, style: { stroke: "#111", lineWidth: 0.7, lineDash: api.value(3) ? null : [3, 2] } };
    },
  });
  series.push(pointsSeries(11, 0, jBL.map((v) => [v, 0]), "#1B1464", 2.6), pointsSeries(11, 1, jEOT.map((v) => [v, 0]), "#F4A81D", 2.6));

  // ---- K ----
  series.push({
    type: "custom", xAxisIndex: 12, yAxisIndex: 12, z: 3, silent: true,
    data: kBinStart.map((s, i) => [s, kCounts[i], s + kBinWidth]),
    renderItem: (_p: any, api: any) => {
      const a = api.coord([api.value(0), api.value(1)]);
      const b = api.coord([api.value(2), 0]);
      if (api.value(1) === 0) {
        return { type: "line", shape: { x1: a[0], y1: b[1], x2: b[0], y2: b[1] }, style: { stroke: "#222", lineWidth: 1 } };
      }
      return { type: "rect", shape: { x: a[0], y: a[1], width: b[0] - a[0], height: b[1] - a[1] }, style: { fill: "#E39B2A", stroke: "#2a2a2a", lineWidth: 1 } };
    },
  });
  series.push(refLine(12, [0.1, -0.18], [0.1, 4.22], "#888", [3, 3], 0.9, 2));
  series.push(labelSeries(12, [[-0.106, 3.02, "PIN⁻"]], { fs: 17, c: "#D7262B" }));
  series.push(labelSeries(12, [[0.499, 3.02, "PIN⁺"]], { fs: 17, c: "#5879B8" }));

  // ---- L ----
  series.push(kmLine(13, lBlueTimes, lBlueSurv, kmBlue), kmLine(13, lRedTimes, lRedSurv, kmRed));
  series.push(censor(13, lBlueCensor, 1, kmBlue), censor(13, lRedCensor, 0.5, kmRed));
  series.push(riskRow(14, lRiskTimes, lRiskBlue, 0), riskRow(14, lRiskTimes, lRiskRed, 1));

  // ---------- graphic ----------
  const g: any[] = [];
  const letters: any[] = [["A", 6, 8], ["B", 301, 8], ["C", 606, 8], ["D", 606, 216], ["E", 300, 216], ["F", 5, 443], ["G", 293, 443], ["H", 623, 444], ["I", 3, 673], ["J", 39, 882], ["K", 253, 688], ["L", 533, 688]];
  letters.forEach(([t, x, y]) => g.push(T(x, y, t, { fs: 16, b: true, c: "#000" })));
  const BC = "#9e9e9e";
  [[102, 2, 166, 406], [643, 11, 139, 182], [642, 227, 136, 181], [322, 215, 213, 191], [27, 453, 274, 188], [333, 453, 274, 188], [643, 454, 75, 84], [643, 541, 75, 84], [50, 668, 177, 183], [76, 878, 123, 163], [272, 704, 242, 239]]
    .forEach(([x, y, w, h]) => g.push(R(x, y, w, h, "none", BC, 1)));

  // A
  g.push(T(148, 380, "Disease", { fs: 12, it: true }), T(228, 380, "Normal", { fs: 12, it: true }), T(188, 425.5, "Signed Importance (%)", { fs: 9 }));

  // B
  g.push(T(393, 12, "Strata", { fs: 6, al: "left" }), Ln(413, 12, 421, 12, kmBlue, 1.2), Ln(417, 10, 417, 14, kmBlue, 1), T(423, 12, "Reactivity⁺", { fs: 6, al: "left" }));
  g.push(Ln(456, 12, 464, 12, kmRed, 1.2), Ln(460, 10, 460, 14, kmRed, 1), T(466, 12, "Reactivity⁻", { fs: 6, al: "left" }));
  g.push(T(313, 80, "Progression-Free Survival", { fs: 9, rot: Math.PI / 2 }), T(350, 109, "p = 0.011", { fs: 10, al: "left" }), T(446, 146, "Time (months)", { fs: 9 }));
  g.push(T(337, 162, "Number at risk", { fs: 10, al: "left" }), T(314, 177, "Strata", { fs: 8, rot: Math.PI / 2 }), R(323, 171.8, 8, 2.4, kmBlue), R(323, 178.8, 8, 2.4, kmRed), T(446, 199, "Time (months)", { fs: 9 }));

  // C
  g.push(T(612, 102, "% patients", { fs: 10, rot: Math.PI / 2 }), T(792, 85, "20-2-20", { fs: 6.5, al: "left" }));
  g.push(R(792, 92, 9, 9, cCol.HR), R(792, 102.5, 9, 9, cCol.IR), R(792, 113, 9, 9, cCol.LR));
  g.push(T(805, 96.5, "HR", { fs: 6, al: "left" }), T(805, 107, "IR", { fs: 6, al: "left" }), T(805, 117.5, "LR", { fs: 6, al: "left" }));

  // D
  g.push(T(610, 318, "% patients", { fs: 10, rot: Math.PI / 2 }));
  g.push(Ln(679, 234, 741, 234, "#444", 0.8), Ln(679, 234, 679, 239, "#444", 0.8), Ln(741, 234, 741, 239, "#444", 0.8), T(710, 241, "0.0379*", { fs: 9 }));
  g.push(T(788, 305, "Del17p", { fs: 7, al: "left" }), R(789, 313, 9, 9, dCol.Neg), R(789, 323, 9, 9, dCol.Pos), T(802, 317.5, "Neg", { fs: 6, al: "left" }), T(802, 327.5, "Pos", { fs: 6, al: "left" }));

  // E
  g.push(T(306, 310, "UMAP_2", { fs: 11, rot: Math.PI / 2 }), T(428, 423.5, "UMAP_1", { fs: 11 }), T(545, 283, "Log₁₀(GEX-6+1)", { fs: 6.5, al: "left" }));
  g.push(R(548, 289, 7, 56, new echarts.graphic.LinearGradient(0, 0, 0, 1, [{ offset: 0, color: "#20175A" }, { offset: 0.5, color: "#8179B2" }, { offset: 1, color: "#ECEAC5" }])));
  g.push(T(560, 293, "3", { fs: 6, al: "left" }), T(560, 310, "2", { fs: 6, al: "left" }), T(560, 327, "1", { fs: 6, al: "left" }), T(560, 342, "0", { fs: 6, al: "left" }));

  // F & G
  const volcanoDeco = (dx: number, yNameX: number, leftX: number, title: string, nsCol: string, sigCol: string) => {
    const cx = 164 + dx;
    g.push(T(cx, 444, title, { fs: 12, it: true }));
    g.push(T(yNameX, 547, "-Log₁₀(q-value)", { fs: 10, rot: Math.PI / 2 }));
    g.push(T(cx, 657, "Log₂FC", { fs: 10 }));
    g.push(T(leftX, 635, "Reactivity⁻", { fs: 11, it: true, al: "left" }));
    g.push(T(299 + dx, 635, "Reactivity⁺", { fs: 11, it: true, al: "right" }));
    g.push(T(266 + dx, 469, "q-value", { fs: 6.5, al: "left" }));
    g.push(R(266 + dx, 476, 8, 8.5, "#EBEBEB"), R(266 + dx, 485, 8, 8.5, "#EBEBEB"));
    g.push({ type: "circle", shape: { cx: 270 + dx, cy: 480.3, r: 1.7 }, style: { fill: nsCol }, silent: true, z: 51 });
    g.push({ type: "circle", shape: { cx: 270 + dx, cy: 489.3, r: 1.7 }, style: { fill: sigCol }, silent: true, z: 51 });
    g.push(T(277 + dx, 480.5, "ns", { fs: 6, al: "left" }), T(277 + dx, 489.5, "<0.05", { fs: 6, al: "left" }));
  };
  volcanoDeco(0, 8, 32, "GZMK⁺ CD8⁺ TEM", "#F5B6C3", "#5E2B87");
  volcanoDeco(306, 312, 340, "GZMB⁺ CD8⁺ TEM", "#EDEBB9", "#EFA11F");

  // H
  g.push(T(624, 540, "% Clones", { fs: 10, rot: Math.PI / 2 }), T(727, 496, "Reactivity⁻", { fs: 10, rot: -Math.PI / 2 }), T(727, 583, "Reactivity⁺", { fs: 10, rot: -Math.PI / 2 }));
  g.push(T(747, 516, "Clone Size", { fs: 7, al: "left" }));
  const hl: any[] = [["Rare (x<=1%)", hCol.Rare, 528], ["Small (1%<x<5%)", hCol.Small, 538.5], ["Medium (5%<=x<10%)", hCol.Medium, 549], ["Large (x>=10%)", hCol.Large, 559.5]];
  hl.forEach(([t, c, y]) => { g.push(R(746, y - 4.5, 9, 9, c), T(759, y, t, { fs: 6, al: "left" })); });

  // I
  const bx = [83.2, 138.5, 193.8];
  g.push(T(25, 760, "Normalization score", { fs: 9.5, rot: Math.PI / 2 }));
  g.push(Ln(bx[0], 677, bx[2], 677, "#555", 0.8), Ln(bx[0], 677, bx[0], 681, "#555", 0.8), Ln(bx[2], 677, bx[2], 681, "#555", 0.8), T(138.5, 684, "4.7e-11****", { fs: 8.5 }));
  g.push(Ln(bx[1], 692, bx[2], 692, "#555", 0.8), Ln(bx[1], 692, bx[1], 696, "#555", 0.8), Ln(bx[2], 692, bx[2], 696, "#555", 0.8), T(166, 697, "4.3e-05****", { fs: 8.5 }));
  g.push(Ln(bx[0], 722, bx[1], 722, "#555", 0.8), Ln(bx[0], 722, bx[0], 726, "#555", 0.8), Ln(bx[1], 722, bx[1], 726, "#555", 0.8), T(111, 730, "0.018*", { fs: 8.5 }));
  g.push(Ln(53, 853, 76, 876, "#999", 0.8), Ln(157, 853, 197, 876, "#999", 0.8));

  // J
  g.push(T(55, 960, "Normalization Score", { fs: 9, rot: Math.PI / 2 }), T(207, 949, "Status", { fs: 6.5, al: "left" }));
  g.push(R(206, 954.5, 10, 9, "#EBEBEB"), R(206, 964.5, 10, 9, "#EBEBEB"));
  g.push(Ln(207, 959, 215, 959, "#222", 0.8, [2, 1.5]), Ln(207, 969, 215, 969, "#222", 0.8));
  g.push(T(219, 959, "PIN⁻", { fs: 5.5, al: "left" }), T(219, 969, "PIN⁺", { fs: 5.5, al: "left" }));

  // K
  g.push(T(253, 823, "Count", { fs: 12, rot: Math.PI / 2 }), T(393, 963, "Change in Normalization score at EOT", { fs: 12 }));
  g.push(Ln(520, 707, 562, 745, "#999", 0.8), Ln(517, 942, 563, 927, "#999", 0.8));

  // L
  g.push(T(624, 732, "Strata", { fs: 6, al: "left" }), Ln(647, 732, 657, 732, kmBlue, 1.2), Ln(652, 730, 652, 734, kmBlue, 1), T(659, 732, "Status=PIN⁺", { fs: 6, al: "left" }));
  g.push(Ln(700, 732, 710, 732, kmRed, 1.2), Ln(705, 730, 705, 734, kmRed, 1), T(713, 732, "Status=PIN⁻", { fs: 6, al: "left" }));
  g.push(T(540, 808, "Progression-Free Survival", { fs: 9, rot: Math.PI / 2 }), T(581, 842, "p = 0.032", { fs: 10, al: "left" }), T(687, 884, "Time (months)", { fs: 9 }));
  g.push(T(566, 901, "Number at risk", { fs: 10, al: "left" }), T(540, 918, "Strata", { fs: 8, rot: Math.PI / 2 }), R(552, 913.5, 8, 2.4, kmBlue), R(552, 920.5, 8, 2.4, kmRed), T(687, 943, "Time (months)", { fs: 9 }));

  return {
    animation: false, backgroundColor: "#ffffff", textStyle: { fontFamily: FONT },
    grid: grids, xAxis, yAxis, series, graphic: g,
  };
}

export default function App() {
  const ref = useRef<HTMLDivElement>(null);
  useEffect(() => {
    if (!ref.current) return;
    const chart = echarts.init(ref.current, null, { renderer: "svg" });
    chart.setOption(buildOption() as any);
    return () => chart.dispose();
  }, []);
  return <div ref={ref} style={{ position: "absolute", left: 0, top: 0, width: 821, height: 1050, background: "#fff" }} />;
}
